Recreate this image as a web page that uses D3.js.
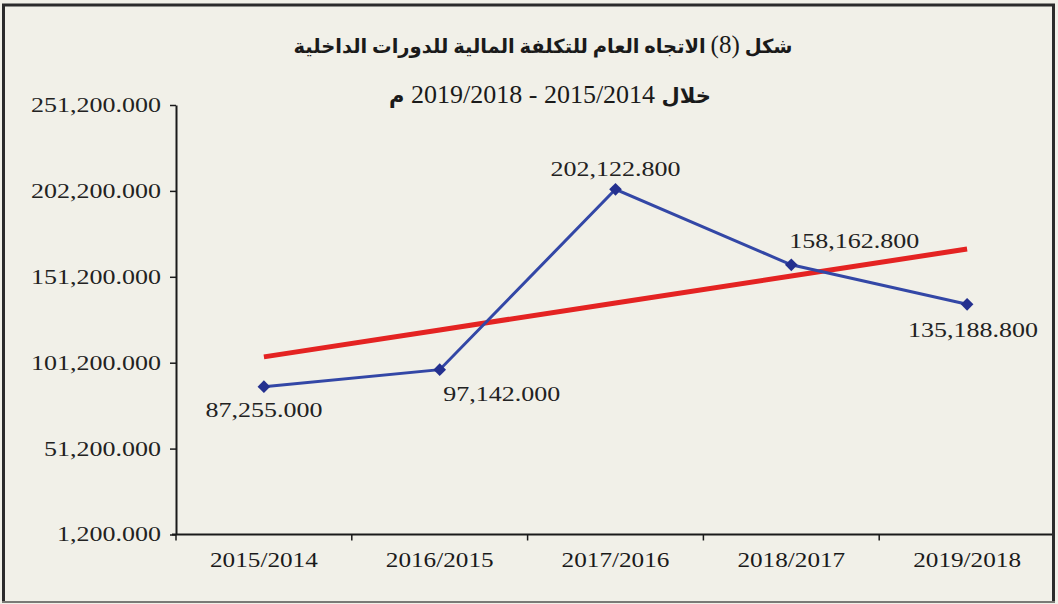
<!DOCTYPE html>
<html>
<head>
<meta charset="utf-8">
<script src="https://cdn.jsdelivr.net/npm/d3@7"></script>
<style>
  html, body { margin: 0; padding: 0; background: #f1f0e8; }
  svg { display: block; }
</style>
</head>
<body>
<div id="chart"></div>
<script>
// Chart data
const categories = ['2015/2014', '2016/2015', '2017/2016', '2018/2017', '2019/2018'];
const costs = [87255.000, 97142.000, 202122.800, 158162.800, 135188.800];
const costLabels = ['87,255.000', '97,142.000', '202,122.800', '158,162.800', '135,188.800'];
const yTickValues = [1200, 51200, 101200, 151200, 201200, 251200];
const yTickLabels = ['1,200.000', '51,200.000', '101,200.000', '151,200.000', '202,200.000', '251,200.000'];
const labelPlacement = ['below', 'below-right', 'above', 'above-right', 'below-near'];
const titleLine1 = ['شكل ', '(8)', ' الاتجاه العام للتكلفة المالية للدورات الداخلية'];
const titleLine2 = ['خلال', ' 2015/2014 - 2019/2018 ', 'م'];

const width = 1058;
const height = 604;
const margin = { top: 105, right: 3, bottom: 70, left: 176 };
const serif = '"Liberation Serif", "Times New Roman", serif';
const arabicFont = '"Liberation Serif", "DejaVu Sans", serif';
const stretch = 1.3;

const svg = d3.select('#chart').append('svg')
    .attr('width', width)
    .attr('height', height);

svg.append('rect')
    .attr('width', width)
    .attr('height', height)
    .attr('fill', '#f1f0e8');

// Frame
svg.append('line').attr('x1', 2).attr('x2', 1055).attr('y1', 5).attr('y2', 5)
    .attr('stroke', '#2b2b2b').attr('stroke-width', 3);
svg.append('line').attr('x1', 3.5).attr('x2', 3.5).attr('y1', 4).attr('y2', 602)
    .attr('stroke', '#2b2b2b').attr('stroke-width', 3);
svg.append('line').attr('x1', 1053.5).attr('x2', 1053.5).attr('y1', 4).attr('y2', 602)
    .attr('stroke', '#2b2b2b').attr('stroke-width', 3);
svg.append('line').attr('x1', 2).attr('x2', 1055).attr('y1', 602).attr('y2', 602)
    .attr('stroke', '#7a7a76').attr('stroke-width', 2);

// Scales
const x = d3.scaleBand()
    .domain(categories)
    .range([margin.left, 1055]);

const y = d3.scaleLinear()
    .domain([1200, 251200])
    .range([534.5, margin.top]);

function stretchText(sel, factor) {
    sel.each(function() {
        const len = this.getComputedTextLength();
        d3.select(this)
            .attr('textLength', len * factor)
            .attr('lengthAdjust', 'spacingAndGlyphs');
    });
}

// Y axis
const yAxis = svg.append('g')
    .attr('transform', `translate(${margin.left},0)`)
    .call(d3.axisLeft(y)
        .tickValues(yTickValues)
        .tickFormat((d, i) => yTickLabels[i])
        .tickSize(6)
        .tickPadding(9)
        .tickSizeOuter(0));
yAxis.select('.domain').attr('stroke', '#1a1a1a').attr('stroke-width', 2);
yAxis.selectAll('.tick line').attr('stroke', '#1a1a1a').attr('stroke-width', 1.5);
yAxis.selectAll('.tick text')
    .attr('fill', '#222')
    .style('font-family', serif)
    .style('font-size', '20px')
    .call(stretchText, stretch);

// X axis
const xAxis = svg.append('g')
    .attr('transform', `translate(0,${y(1200)})`)
    .call(d3.axisBottom(x).tickSize(0).tickPadding(18));
xAxis.select('.domain').attr('stroke', '#1a1a1a').attr('stroke-width', 2)
    .attr('d', `M${margin.left - 4},0H1052`);
xAxis.selectAll('.tick text')
    .attr('fill', '#1a1a1a')
    .style('font-family', serif)
    .style('font-size', '21px')
    .call(stretchText, 1.2);

// x tick marks on band boundaries
xAxis.selectAll('.band-tick')
    .data(categories)
    .enter()
    .append('line')
    .attr('class', 'band-tick')
    .attr('x1', d => x(d))
    .attr('x2', d => x(d))
    .attr('y1', 0)
    .attr('y2', 6)
    .attr('stroke', '#1a1a1a')
    .attr('stroke-width', 1.5);

const cx = (d, i) => x(categories[i]) + x.bandwidth() / 2;

// Trend line (least squares over category index)
const n = costs.length;
const idx = d3.range(n);
const meanX = d3.mean(idx);
const meanY = d3.mean(costs);
const slope = d3.sum(idx, i => (i - meanX) * (costs[i] - meanY)) /
    d3.sum(idx, i => (i - meanX) * (i - meanX));
const intercept = meanY - slope * meanX;
const trend = idx.map(i => intercept + slope * i);

svg.append('path')
    .datum(trend)
    .attr('fill', 'none')
    .attr('stroke', '#e42322')
    .attr('stroke-width', 5)
    .attr('d', d3.line().x(cx).y(d => y(d)));

// Cost line
svg.append('path')
    .datum(costs)
    .attr('fill', 'none')
    .attr('stroke', '#3347a6')
    .attr('stroke-width', 3)
    .attr('d', d3.line().x(cx).y(d => y(d)));

svg.selectAll('.marker')
    .data(costs)
    .enter()
    .append('path')
    .attr('class', 'marker')
    .attr('d', d3.symbol().type(d3.symbolSquare).size(80))
    .attr('transform', (d, i) => `translate(${cx(d, i)},${y(d)}) rotate(45)`)
    .attr('fill', '#24308f');

// Data labels
const offsets = {
    'below': [0, 30],
    'below-right': [62, 31],
    'above': [0, -13],
    'above-right': [63, -17],
    'below-near': [6, 33]
};
svg.selectAll('.value-label')
    .data(costs)
    .enter()
    .append('text')
    .attr('class', 'value-label')
    .attr('x', (d, i) => cx(d, i) + offsets[labelPlacement[i]][0])
    .attr('y', (d, i) => y(d) + offsets[labelPlacement[i]][1])
    .attr('text-anchor', 'middle')
    .attr('fill', '#222')
    .style('font-family', serif)
    .style('font-size', '20px')
    .text((d, i) => costLabels[i])
    .call(stretchText, stretch);

// Title
const t1 = svg.append('text')
    .attr('x', 543)
    .attr('y', 53)
    .attr('text-anchor', 'middle')
    .attr('direction', 'rtl')
    .attr('fill', '#1a1a1a')
    .style('font-family', arabicFont)
    .style('font-size', '19.5px')
    .style('font-weight', 'bold');
t1.append('tspan').text(titleLine1[0]);
t1.append('tspan').style('font-weight', 'normal').style('font-size', '25px').text(titleLine1[1]);
t1.append('tspan').text(titleLine1[2]);

const t2 = svg.append('text')
    .attr('x', 550)
    .attr('y', 103)
    .attr('text-anchor', 'middle')
    .attr('direction', 'rtl')
    .attr('fill', '#1a1a1a')
    .style('font-family', arabicFont)
    .style('font-size', '26px');
t2.append('tspan').style('font-weight', 'bold').style('font-size', '21px').text(titleLine2[0]);
t2.append('tspan').text(titleLine2[1]);
t2.append('tspan').style('font-weight', 'bold').style('font-size', '21px').text(titleLine2[2]);
</script>
</body>
</html>
